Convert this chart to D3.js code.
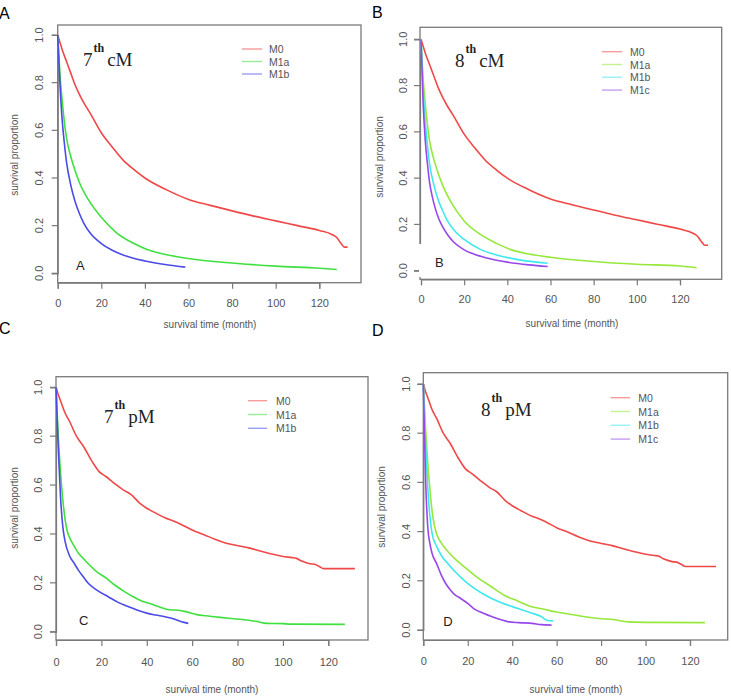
<!DOCTYPE html>
<html>
<head>
	<meta charset="utf-8">
	<title>survival curves</title>
	<script src="https://d3js.org/d3.v7.min.js"></script>
	<style>
		body { margin: 0; background: #fff; }
		svg { display: block; }
	</style>
</head>
<body>
	<div class="chart"></div>

	<script type="text/javascript">

		// data: [month, survival proportion]
		var xTicks = [0, 20, 40, 60, 80, 100, 120]
		var yTicks = [0, 0.2, 0.4, 0.6, 0.8, 1.0]

		var cM7_M0 = [[0,1],[1,0.97],[2,0.94],[4,0.89],[6,0.84],[8,0.79],[10,0.75],[12,0.715],[15,0.67],[20,0.59],[25,0.53],[30,0.475],[35,0.435],[40,0.40],[50,0.35],[60,0.31],[70,0.285],[80,0.262],[90,0.24],[100,0.22],[110,0.2],[120,0.18],[126,0.162],[128,0.15],[130,0.125],[131.5,0.11],[133,0.11]]
		var cM7_M1a = [[0,1],[1,0.84],[2,0.73],[3,0.64],[4,0.57],[6,0.49],[8,0.43],[10,0.38],[14,0.31],[20,0.235],[27,0.17],[35,0.125],[41,0.10],[50,0.078],[60,0.062],[80,0.043],[100,0.03],[120,0.021],[128,0.016]]
		var cM7_M1b = [[0,1],[1,0.8],[2,0.65],[3,0.55],[4,0.47],[6,0.37],[8,0.3],[10,0.25],[12,0.21],[15,0.168],[20,0.125],[25,0.097],[30,0.077],[40,0.052],[50,0.036],[58.5,0.026]]

		var cM8_M0 = [[0,1],[1,0.97],[2,0.94],[4,0.89],[6,0.84],[8,0.79],[10,0.75],[12,0.715],[15,0.67],[20,0.59],[25,0.53],[30,0.475],[35,0.435],[40,0.40],[50,0.35],[60,0.31],[70,0.285],[80,0.262],[90,0.24],[100,0.22],[110,0.2],[120,0.18],[126,0.162],[128,0.15],[130,0.125],[131.5,0.11],[133,0.11]]
		var cM8_M1a = [[0,1],[1,0.83],[2,0.72],[3,0.63],[4,0.56],[6,0.48],[8,0.42],[10,0.37],[14,0.295],[20,0.215],[27,0.16],[35,0.118],[42,0.09],[50,0.072],[60,0.058],[80,0.04],[100,0.028],[120,0.02],[127.7,0.013]]
		var cM8_M1b = [[0,1],[1,0.78],[2,0.64],[3,0.54],[4,0.46],[6,0.37],[8,0.305],[10,0.26],[12,0.22],[16,0.168],[20,0.135],[28,0.09],[35,0.068],[45,0.048],[58.7,0.032]]
		var cM8_M1c = [[0,1],[1,0.72],[2,0.56],[3,0.46],[4,0.38],[5,0.33],[6,0.29],[8,0.23],[10,0.19],[12,0.16],[15,0.125],[20,0.09],[25,0.07],[30,0.056],[40,0.037],[50,0.025],[58.7,0.018]]

		var pM7_M0 = [[0,1],[1,0.97],[2,0.945],[4,0.895],[6,0.86],[9,0.80],[12,0.76],[16,0.695],[19,0.655],[22,0.635],[26,0.605],[30,0.578],[33,0.562],[37,0.525],[40,0.505],[44,0.485],[48,0.466],[52,0.452],[55,0.44],[60,0.416],[65,0.398],[70,0.378],[75,0.362],[80,0.352],[85,0.343],[90,0.33],[95,0.318],[100,0.308],[104,0.303],[106,0.3],[108,0.29],[110,0.283],[112,0.278],[114,0.276],[116,0.267],[118,0.258],[131.7,0.258]]
		var pM7_M1a = [[0,1],[1,0.8],[2,0.65],[3,0.54],[4,0.46],[5,0.41],[6,0.385],[8,0.35],[10,0.32],[12,0.3],[14,0.28],[18,0.245],[22,0.22],[26,0.19],[30,0.165],[34,0.143],[38,0.125],[42,0.113],[46,0.1],[50,0.09],[54,0.088],[58,0.08],[62,0.07],[66,0.065],[70,0.061],[76,0.055],[84,0.048],[88,0.043],[93,0.034],[100,0.033],[103,0.031],[127.3,0.03]]
		var pM7_M1b = [[0,1],[1,0.75],[2,0.55],[3,0.43],[4,0.37],[6,0.31],[8,0.28],[10,0.25],[12,0.225],[14,0.2],[18,0.17],[23,0.143],[27,0.122],[32,0.102],[36,0.088],[40,0.076],[44,0.068],[48,0.061],[52,0.052],[55,0.042],[58.3,0.034]]

		var pM8_M0 = [[0,1],[1,0.97],[2,0.945],[4,0.895],[6,0.86],[9,0.80],[12,0.76],[16,0.695],[19,0.655],[22,0.635],[26,0.605],[30,0.578],[33,0.562],[37,0.525],[40,0.505],[44,0.485],[48,0.466],[52,0.452],[55,0.44],[60,0.416],[65,0.398],[70,0.378],[75,0.362],[80,0.352],[85,0.343],[90,0.33],[95,0.318],[100,0.308],[104,0.303],[106,0.3],[108,0.29],[110,0.283],[112,0.278],[114,0.276],[116,0.267],[118,0.258],[131.7,0.258]]
		var pM8_M1a = [[0,1],[1,0.82],[2,0.68],[3,0.57],[4,0.48],[5,0.425],[6,0.39],[8,0.355],[10,0.33],[12,0.31],[15,0.283],[20,0.245],[26,0.203],[30,0.18],[34,0.155],[37,0.138],[42,0.12],[48,0.097],[54,0.085],[60,0.073],[64,0.067],[70,0.058],[79,0.047],[86,0.042],[92,0.033],[100,0.031],[126.7,0.03]]
		var pM8_M1b = [[0,1],[1,0.76],[2,0.58],[3,0.46],[4,0.39],[6,0.34],[8,0.305],[11,0.27],[14,0.24],[18,0.205],[22,0.175],[26,0.152],[29,0.136],[34,0.115],[40,0.095],[45,0.08],[49,0.068],[53,0.055],[55.5,0.04],[58.5,0.037]]
		var pM8_M1c = [[0,1],[1,0.62],[2,0.42],[3,0.35],[4,0.31],[6,0.27],[8,0.225],[10,0.19],[12,0.165],[14,0.145],[16,0.133],[20,0.108],[23,0.085],[27,0.068],[31,0.054],[35,0.042],[38,0.034],[43,0.03],[49,0.027],[53,0.022],[57.7,0.02]]

		var names3 = ['M0', 'M1a', 'M1b']
		var names4 = ['M0', 'M1a', 'M1b', 'M1c']
		var color3 = ['#f04848', '#3fe03f', '#4b4be8']
		var color4 = ['#f04848', '#96e83c', '#3fe8ee', '#9848ea']

		// layout of each panel (pixels)
		var panels = [
			{ tag: 'A', ed: '7', kind: 'cM', series: [cM7_M0, cM7_M1a, cM7_M1b], names: names3, colors: color3,
			  box: [57.7, 25, 361, 282.7], xr: [57.7, 319.3], yr: [273.3, 35], tickX: 39, titleX: 15, titleY: 155,
			  xLabY: 303, xTitle: [210, 325], tagPos: [-1, 19], inner: [76, 269.5],
			  leg: [242, 262, 269, 49, 12.5], ann: [83, 66] },
			{ tag: 'B', ed: '8', kind: 'cM', series: [cM8_M0, cM8_M1a, cM8_M1b, cM8_M1c], names: names4, colors: color4,
			  box: [420, 27.3, 721.7, 279.3], xr: [421, 680], yr: [270.7, 39.3], tickX: 403, titleX: 380, titleY: 157,
			  xLabY: 299, xTitle: [572, 324], tagPos: [372, 18], inner: [435, 266.7],
			  leg: [602, 622, 630, 51.7, 12.8], ann: [455, 67], gap: true },
			{ tag: 'C', ed: '7', kind: 'pM', series: [pM7_M0, pM7_M1a, pM7_M1b], names: names3, colors: color3,
			  box: [56, 376.7, 368, 640], xr: [56, 328.3], yr: [631.7, 387.3], tickX: 38, titleX: 15, titleY: 508,
			  xLabY: 662, xTitle: [212, 690], tagPos: [-1, 334], inner: [79, 625],
			  leg: [248, 267, 276, 400.7, 13.8], ann: [104, 423] },
			{ tag: 'D', ed: '8', kind: 'pM', series: [pM8_M0, pM8_M1a, pM8_M1b, pM8_M1c], names: names4, colors: color4,
			  box: [423.3, 372.7, 727.7, 640], xr: [423.3, 690], yr: [630, 384], tickX: 405.7, titleX: 382, titleY: 507,
			  xLabY: 661, xTitle: [576, 690], tagPos: [372, 336], inner: [443.3, 625.7],
			  leg: [610.7, 630, 638.3, 397.7, 13.8], ann: [481, 416] }
		]

		var svg = d3
			.select('.chart')
			.append('svg')
			.attr('width', 731)
			.attr('height', 699)

		var axisColor = '#7a7a7a'
		var textColor = '#555'

		panels.forEach(function (p) {
			var g = svg.append('g')
			var xScale = d3.scaleLinear().domain([0, 120]).range(p.xr)
			var yScale = d3.scaleLinear().domain([0, 1]).range(p.yr)

			// box
			g.append('rect')
				.attr('x', p.box[0])
				.attr('y', p.box[1])
				.attr('width', p.box[2] - p.box[0])
				.attr('height', p.box[3] - p.box[1])
				.attr('fill', 'none')
				.attr('stroke', axisColor)
				.attr('stroke-width', 1.3)

			// x axis
			var xAxis = d3.axisBottom(xScale).tickValues(xTicks).tickSize(6).tickPadding(5)
			var gx = g.append('g')
				.attr('transform', `translate(0, ${p.box[3]})`)
				.call(xAxis)
			gx.selectAll('text')
				.attr('y', p.xLabY - p.box[3] + 4)
				.attr('dy', null)
			// y axis
			var yAxis = d3.axisLeft(yScale).tickValues(yTicks).tickSize(6).tickFormat(d3.format('.1f'))
			var gy = g.append('g')
				.attr('transform', `translate(${p.box[0]}, 0)`)
				.call(yAxis)
			gy.selectAll('text')
				.attr('x', null)
				.attr('dy', null)
				.attr('text-anchor', 'middle')
				.attr('transform', (d) => `translate(${p.tickX - p.box[0] + 4}, ${yScale(d)}) rotate(-90)`)
			gy.selectAll('.tick').attr('transform', null)
			gy.selectAll('.tick line').attr('transform', (d) => `translate(0, ${yScale(d)})`)

			g.selectAll('.domain, .tick line')
				.attr('stroke', axisColor)
				.attr('stroke-width', 1.2)
			g.selectAll('.tick text')
				.attr('fill', textColor)
				.style('font-family', 'Liberation Sans, Arial, sans-serif')
				.style('font-size', '11px')

			// axis titles
			g.append('text')
				.attr('transform', `translate(${p.titleX + 3}, ${p.titleY}) rotate(-90)`)
				.attr('text-anchor', 'middle')
				.attr('fill', textColor)
				.style('font-family', 'Liberation Sans, Arial, sans-serif')
				.style('font-size', '10px')
				.text('survival proportion')
			g.append('text')
				.attr('x', p.xTitle[0])
				.attr('y', p.xTitle[1] + 3)
				.attr('text-anchor', 'middle')
				.attr('fill', textColor)
				.style('font-family', 'Liberation Sans, Arial, sans-serif')
				.style('font-size', '10px')
				.text('survival time (month)')

			// curves
			var line = d3.line()
				.x((d) => xScale(d[0]))
				.y((d) => yScale(d[1]))
				.curve(d3.curveMonotoneX)
			g.append('g')
				.selectAll('path')
				.data(p.series)
				.enter()
				.append('path')
				.attr('d', line)
				.attr('fill', 'none')
				.attr('stroke', (d, i) => p.colors[i])
				.attr('stroke-width', 1.6)
				.attr('stroke-linejoin', 'round')

			// legend
			var leg = g.append('g')
			p.names.forEach(function (n, i) {
				var y = p.leg[3] + i * p.leg[4]
				leg.append('line')
					.attr('x1', p.leg[0]).attr('x2', p.leg[1])
					.attr('y1', y).attr('y2', y)
					.attr('stroke', p.colors[i])
					.attr('stroke-opacity', 0.55)
					.attr('stroke-width', 1.4)
				leg.append('text')
					.attr('x', p.leg[2])
					.attr('y', y + 4)
					.attr('fill', textColor)
					.style('font-family', 'Liberation Sans, Arial, sans-serif')
					.style('font-size', '10.5px')
					.text(n)
			})

			// edition annotation, e.g. 7th cM
			var ann = g.append('text')
				.attr('x', p.ann[0])
				.attr('y', p.ann[1])
				.attr('fill', '#222')
				.style('font-family', 'Liberation Serif, Times New Roman, serif')
				.style('font-size', '19px')
			ann.append('tspan').text(p.ed)
			ann.append('tspan')
				.attr('dy', -14)
				.attr('dx', 1)
				.style('font-size', '12px')
				.style('font-weight', 'bold')
				.text('th')
			ann.append('tspan')
				.attr('dy', 14)
				.attr('dx', 3)
				.text(p.kind)

			// white patch behind inner letter (panel B)
			if (p.gap) {
				g.append('rect')
					.attr('x', p.box[0] - 1)
					.attr('y', 244)
					.attr('width', 30)
					.attr('height', 33)
					.attr('fill', '#fff')
			}
			g.append('text')
				.attr('x', p.inner[0])
				.attr('y', p.inner[1])
				.attr('fill', '#222')
				.style('font-family', 'Liberation Sans, Arial, sans-serif')
				.style('font-size', '13px')
				.text(p.tag)

			// panel letter
			svg.append('text')
				.attr('x', p.tagPos[0])
				.attr('y', p.tagPos[1])
				.attr('fill', '#000')
				.style('font-family', 'Liberation Sans, Arial, sans-serif')
				.style('font-size', '16px')
				.text(p.tag)
		})

	</script>
</body>
</html>
